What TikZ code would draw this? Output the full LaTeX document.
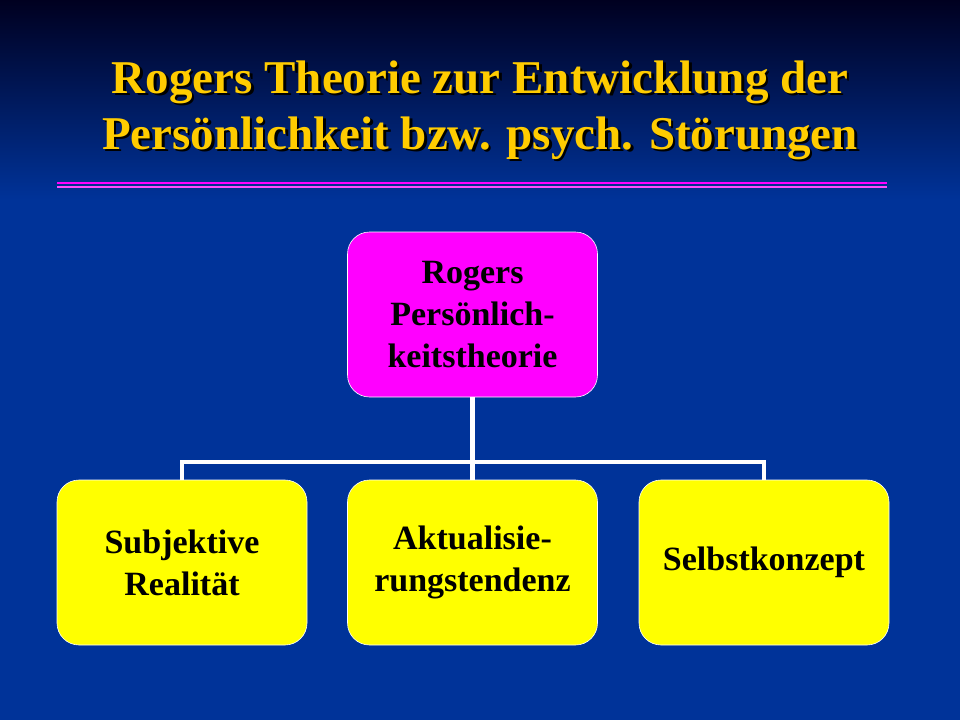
\documentclass[tikz,border=0pt]{standalone}
\usepackage{fontspec}
\setmainfont{Liberation Serif}
\definecolor{bgtop}{HTML}{000020}
\definecolor{bgbot}{HTML}{003399}
\definecolor{ttl}{HTML}{FFCC00}
\definecolor{mag}{HTML}{FF00FF}
\definecolor{yel}{HTML}{FFFF00}
\begin{document}
\begin{tikzpicture}[x=1pt,y=-1pt,
  box/.style={draw=white,line width=0.6pt,rounded corners=22pt,minimum width=250pt,minimum height=165pt,align=center,font=\bfseries\fontsize{34}{42}\selectfont,text=black},
  conn/.style={white,line width=4.5pt},
  ttlf/.style={font=\bfseries\fontsize{47}{50}\selectfont}]
\useasboundingbox (0,0) rectangle (960,720);
\fill[bgbot] (0,0) rectangle (960,720);
\shade[top color=bgtop,bottom color=bgbot] (0,0) rectangle (960,200);
\foreach \t/\yy in {{Rogers Theorie zur Entwicklung der}/82,{Persönlichkeit bzw. psych. Störungen}/138}{
  \node[ttlf,text=black] at (482.5,\yy+2.5) {\t};
  \node[ttlf,text=ttl] (t\yy) at (480,\yy) {\t};
}
\draw[mag,line width=2pt] (57,183) -- (887,183);
\draw[mag!70!white,line width=1.5pt] (57,187) -- (887,187);
\node[box,fill=mag] (top) at (472.5,314.5) {Rogers\\ Persönlich-\\keitstheorie};
\node[box,fill=yel] (a) at (182,562.5) {Subjektive\\ Realität};
\node[box,fill=yel] (b) at (472.5,562.5) {Aktualisie-\\rungstendenz};
\node[box,fill=yel] (c) at (764,562.5) {Selbstkonzept};
\coordinate (j) at (top.south |- 0,462);
\draw[conn] (top.south) -- (j);
\draw[conn] (a.north) -- (a.north |- j) -- (c.north |- j) -- (c.north);
\draw[conn] (j) -- (b.north);
\end{tikzpicture}
\end{document}
